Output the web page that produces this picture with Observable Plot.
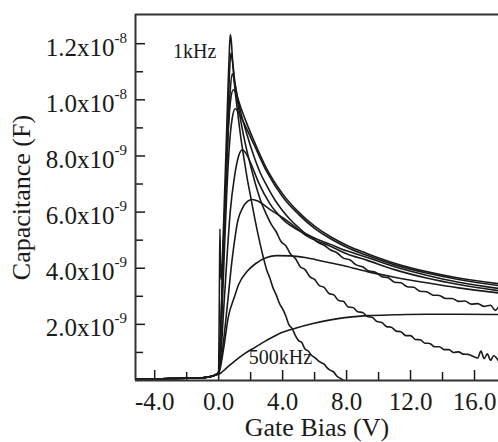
<!DOCTYPE html>
<html>
<head>
<meta charset="utf-8">
<script src="https://cdn.jsdelivr.net/npm/d3@7"></script>
<script src="https://cdn.jsdelivr.net/npm/@observablehq/plot@0.6"></script>
<style>
  html, body { margin: 0; padding: 0; background: #fff; }
  #chart { width: 498px; height: 442px; }
</style>
</head>
<body>
<div id="chart"></div>
<script>
// Axis ticks and labels
const xMajor = [-4, 0, 4, 8, 12, 16];
const xLabels = ["-4.0", "0.0", "4.0", "8.0", "12.0", "16.0"];
const xMinor = [-2, 2, 6, 10, 14];
const yMajor = [2, 4, 6, 8, 10, 12]; // in nF (x10^-9 F)
const yMant = ["2.0", "4.0", "6.0", "8.0", "1.0", "1.2"];
const yExp = ["-9", "-9", "-9", "-9", "-8", "-8"];
const yMinor = [1, 3, 5, 7, 9, 11];

// Annotations
const annotText = ["1kHz", "500kHz"];
const annotX = [-1.5, 3.86];
const annotY = [11.72, 0.8];

// Shared accumulation baseline (V, nF)
const baseX = [-5.2, -4, -3, -2, -1, -0.5, -0.2];
const baseY = [0.05, 0.06, 0.07, 0.08, 0.1, 0.14, 0.2];

// Curve A (1 kHz) – tallest peak, falls to zero near 7.8 V
const aX = [0, 0.05, 0.08, 0.11, 0.16, 0.25, 0.35, 0.45, 0.55, 0.62, 0.68, 0.73, 0.79, 0.87, 1.0, 1.2, 1.4, 1.6, 1.8, 2.0, 2.3, 2.6, 3.0, 3.2, 3.4, 3.6, 3.8, 4.0, 4.2, 4.4, 4.6, 4.8, 5.0, 5.2, 5.4, 5.6, 5.8, 6.0, 6.2, 6.4, 6.6, 6.8, 7.0, 7.2, 7.4, 7.6, 7.8];
const aY = [0.3, 3.5, 5.4, 4.2, 3.6, 4.6, 6.3, 8.0, 9.8, 11.0, 11.9, 12.33, 12.1, 11.4, 10.5, 9.5, 8.6, 7.85, 7.15, 6.55, 5.65, 4.85, 3.95, 3.65, 3.3, 3.05, 2.75, 2.55, 2.3, 1.98, 1.85, 1.6, 1.42, 1.35, 1.12, 1.05, 0.9, 0.82, 0.72, 0.64, 0.58, 0.44, 0.36, 0.3, 0.15, 0.08, 0.0];

// Curve B – noisy, ends low
const bX = [0, 0.1, 0.2, 0.3, 0.4, 0.5, 0.6, 0.68, 0.77, 0.86, 1.0, 1.2, 1.4, 1.7, 2.0, 2.3, 2.6, 3.0, 3.3, 3.6, 3.9, 4.2, 4.5, 4.8, 5.1, 5.4, 5.7, 6.0, 6.3, 6.6, 6.9, 7.2, 7.5, 7.8, 8.1, 8.4, 8.7, 9.0, 9.3, 9.6, 9.9, 10.2, 10.5, 10.8, 11.1, 11.4, 11.7, 12.0, 12.3, 12.6, 12.9, 13.2, 13.5, 13.8, 14.1, 14.4, 14.7, 15.0, 15.3, 15.6, 15.9, 16.2, 16.4, 16.6, 16.8, 17.0, 17.2, 17.5];
const bY = [0.3, 1.3, 3.0, 4.7, 6.3, 8.0, 9.8, 11.0, 11.67, 11.4, 10.7, 9.9, 9.2, 8.35, 7.65, 7.0, 6.45, 5.9, 5.55, 5.3, 4.95, 4.8, 4.5, 4.35, 4.05, 3.95, 3.7, 3.6, 3.38, 3.32, 3.1, 3.05, 2.85, 2.82, 2.62, 2.6, 2.45, 2.42, 2.28, 2.25, 2.1, 2.07, 1.92, 1.9, 1.76, 1.74, 1.6, 1.6, 1.46, 1.45, 1.33, 1.32, 1.2, 1.2, 1.1, 1.1, 1.0, 1.02, 0.94, 0.93, 0.86, 0.8, 1.05, 0.78, 0.95, 0.72, 0.88, 0.7];

// Curve C – noisy, middle
const cX = [0, 0.1, 0.2, 0.3, 0.45, 0.6, 0.72, 0.86, 1.0, 1.3, 1.7, 2.2, 2.6, 3.0, 3.5, 4.0, 4.5, 5.0, 5.4, 5.8, 6.2, 6.6, 7.0, 7.4, 7.8, 8.2, 8.6, 9.0, 9.4, 9.8, 10.2, 10.6, 11.0, 11.4, 11.8, 12.2, 12.6, 13.0, 13.4, 13.8, 14.2, 14.6, 15.0, 15.4, 15.8, 16.2, 16.6, 17.0, 17.3, 17.5];
const cY = [0.3, 1.2, 2.9, 4.6, 6.8, 9.0, 10.3, 10.93, 10.6, 9.75, 8.9, 8.0, 7.4, 6.95, 6.45, 6.05, 5.72, 5.45, 5.25, 5.12, 4.92, 4.82, 4.65, 4.55, 4.36, 4.3, 4.12, 4.05, 3.9, 3.86, 3.7, 3.66, 3.5, 3.48, 3.34, 3.32, 3.18, 3.16, 3.04, 3.03, 2.92, 2.92, 2.82, 2.83, 2.72, 2.74, 2.64, 2.68, 2.5, 2.62];

// Curve D
const dX = [0, 0.1, 0.2, 0.3, 0.45, 0.6, 0.75, 0.92, 1.1, 1.4, 1.8, 2.2, 3, 4, 5, 6, 7, 8, 9.3, 11, 13, 15, 17.5];
const dY = [0.3, 1.3, 3.0, 4.8, 7.0, 8.9, 10.0, 10.36, 10.2, 9.7, 9.1, 8.55, 7.55, 6.65, 6.0, 5.5, 5.12, 4.82, 4.52, 4.18, 3.88, 3.65, 3.45];

// Curve E
const eX = [0, 0.12, 0.25, 0.35, 0.5, 0.65, 0.85, 1.04, 1.25, 1.6, 2.2, 3, 4, 5, 6, 7, 8, 9.3, 11, 13, 15, 17.5];
const eY = [0.3, 1.2, 3.0, 4.5, 6.6, 8.2, 9.35, 9.68, 9.55, 9.15, 8.42, 7.45, 6.55, 5.92, 5.42, 5.05, 4.75, 4.45, 4.12, 3.83, 3.6, 3.38];

// Curve F
const fX = [0, 0.15, 0.3, 0.5, 0.73, 1.0, 1.25, 1.48, 1.7, 2.0, 2.5, 3.2, 4, 5.5, 7, 8, 9.3, 11, 13, 15, 17.5];
const fY = [0.3, 1.0, 2.4, 4.2, 6.05, 7.3, 8.0, 8.22, 8.1, 7.75, 7.05, 6.3, 5.75, 5.2, 4.85, 4.62, 4.38, 4.05, 3.75, 3.5, 3.28];

// Curve G
const gX = [0, 0.2, 0.4, 0.6, 0.83, 1.0, 1.2, 1.5, 1.8, 2.1, 2.5, 3.2, 4.0, 4.5, 5.5, 7, 8, 9.3, 11, 13, 15, 17.5];
const gY = [0.3, 0.9, 1.9, 3.0, 4.25, 5.0, 5.7, 6.15, 6.38, 6.45, 6.38, 6.1, 5.8, 5.6, 5.15, 4.78, 4.52, 4.28, 3.95, 3.65, 3.42, 3.2];

// Curve H
const hX = [0, 0.3, 0.6, 1.0, 1.25, 1.8, 2.3, 3.0, 3.6, 4.5, 5.4, 6.5, 7.9, 9.3, 11, 13, 15, 17.5];
const hY = [0.25, 1.1, 2.25, 3.0, 3.42, 3.9, 4.16, 4.38, 4.45, 4.44, 4.38, 4.25, 4.08, 3.88, 3.68, 3.48, 3.3, 3.12];

// Curve I (500 kHz)
const iX = [0, 0.5, 1.04, 1.6, 2.3, 3.0, 3.75, 4.8, 5.84, 7.0, 7.9, 9.3, 11, 13, 15, 17.5];
const iY = [0.22, 0.45, 0.71, 0.95, 1.19, 1.43, 1.66, 1.86, 2.02, 2.16, 2.24, 2.31, 2.34, 2.36, 2.36, 2.35];

const curves = [["A", aX, aY], ["B", bX, bY], ["C", cX, cY], ["D", dX, dY], ["E", eX, eY], ["F", fX, fY], ["G", gX, gY], ["H", hX, hY], ["I", iX, iY]];
const rows = [];
for (const [id, xs, ys] of curves) {
  baseX.forEach((v, k) => rows.push({id, v, c: baseY[k]}));
  xs.forEach((v, k) => rows.push({id, v, c: ys[k]}));
}

const ink = "#1a1a1a";
const chart = Plot.plot({
  width: 498,
  height: 442,
  marginLeft: 135,
  marginRight: 0,
  marginTop: 14,
  marginBottom: 62,
  style: {fontFamily: "'Liberation Serif', 'Times New Roman', serif", color: ink, background: "#fff"},
  x: {domain: [-5.2, 17.5]},
  y: {domain: [0, 13.04]},
  marks: [
    Plot.line(rows, {x: "v", y: "c", z: "id", stroke: ink, strokeWidth: 1.6, curve: "monotone-x", clip: true}),
    Plot.axisX({ticks: xMinor, tickSize: -8, tickFormat: () => "", stroke: ink, strokeWidth: 1.5, label: null}),
    Plot.axisX({ticks: xMajor, tickSize: -10, tickFormat: () => "", stroke: ink, strokeWidth: 1.5, label: null}),
    Plot.axisX({ticks: xMajor, tickSize: 0, tickPadding: 12, tickFormat: (d, i) => xLabels[i], fontSize: 25, fill: ink, label: null}),
    Plot.axisY({ticks: yMinor, tickSize: -8, tickFormat: () => "", stroke: ink, strokeWidth: 1.5, label: null}),
    Plot.axisY({ticks: yMajor, tickSize: -10, tickFormat: () => "", stroke: ink, strokeWidth: 1.5, label: null}),
    Plot.axisY({ticks: yMajor, tickSize: 0, tickPadding: 21, dy: 4, tickFormat: (d, i) => yMant[i] + "x10", fontSize: 25, fill: ink, label: null}),
    Plot.axisY({ticks: yMajor, tickSize: 0, tickPadding: 21, dy: -6, textAnchor: "start", tickFormat: (d, i) => yExp[i], fontSize: 15, fill: ink, label: null}),
    Plot.ruleX([-5.2], {stroke: "#333", strokeWidth: 2}),
    Plot.ruleY([0], {stroke: "#333", strokeWidth: 2}),
    Plot.ruleY([13.04], {stroke: "#333", strokeWidth: 2}),
    Plot.text(annotText, {x: (d, i) => annotX[i], y: (d, i) => annotY[i], text: d => d, fontSize: 20, fill: ink}),
    Plot.text(["Gate Bias (V)"], {frameAnchor: "bottom", lineAnchor: "middle", textAnchor: "middle", dy: 47, fontSize: 26, fill: ink}),
    Plot.text(["Capacitance (F)"], {frameAnchor: "left", lineAnchor: "middle", textAnchor: "middle", rotate: -90, dx: -114, fontSize: 26, fill: ink})
  ]
});
document.getElementById("chart").appendChild(chart);
</script>
</body>
</html>
